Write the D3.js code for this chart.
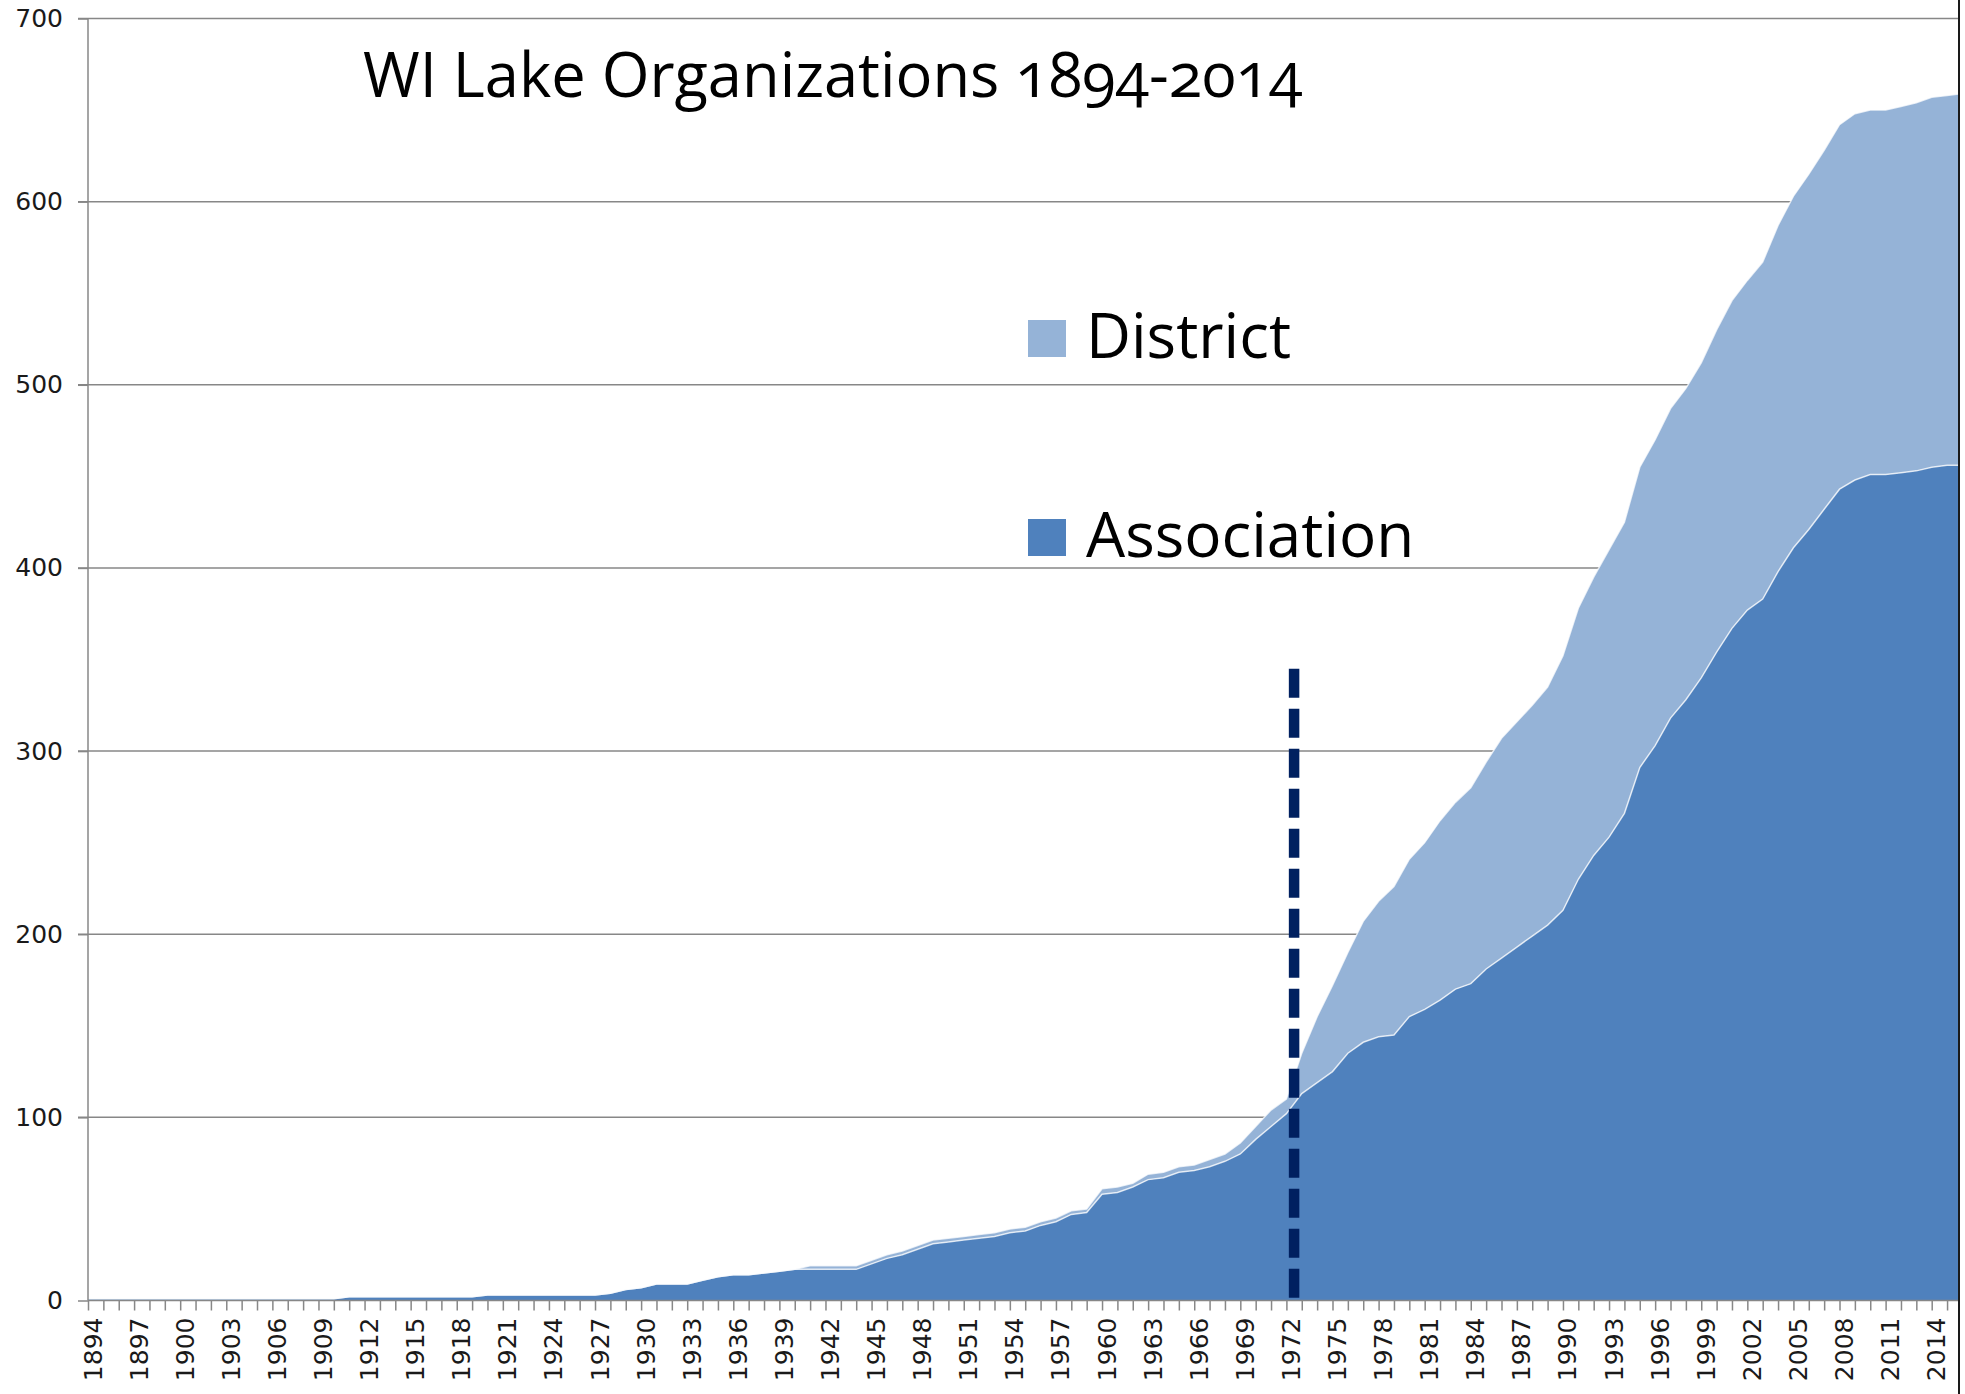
<!DOCTYPE html>
<html>
<head>
<meta charset="utf-8">
<script src="https://cdn.jsdelivr.net/npm/d3@7/dist/d3.min.js"></script>
<style>
    body { margin: 0; background: #fff; }
    svg { display: block; }
</style>
</head>
<body>
<svg id="chart"></svg>
<script>
const width = 1965;
const height = 1394;

// one value per year, 1894 .. 2016
const years = d3.range(1894, 2017);
const association = [
    1, 1, 1, 1, 1, 1, 1, 1, 1, 1, 1, 1, 1, 1, 1, 1, 1,          // 1894-1910
    2, 2, 2, 2, 2, 2, 2, 2, 2,                                   // 1911-1919
    3, 3, 3, 3, 3, 3, 3, 3,                                      // 1920-1927
    4, 6, 7, 9, 9, 9, 11, 13, 14, 14, 15, 16, 17, 17, 17, 17, 17, // 1928-1944
    20, 23, 25, 28, 31, 32, 33, 34, 35, 37, 38, 41, 43, 47, 48,  // 1945-1959
    58, 59, 62, 66, 67, 70, 71, 73, 76, 80, 88, 95, 102,         // 1960-1972
    113, 119, 125, 135, 141, 144, 145, 155, 159, 164, 170, 173,  // 1973-1984
    181, 187, 193, 199, 205, 213, 230, 243, 253, 266, 291, 303,  // 1985-1996
    318, 328, 340, 354, 367, 377, 383, 398, 411, 421, 432, 443,  // 1997-2008
    448, 451, 451, 452, 453, 455, 456, 456                       // 2009-2016
];
const district = [
    0, 0, 0, 0, 0, 0, 0, 0, 0, 0, 0, 0, 0, 0, 0, 0, 0,
    0, 0, 0, 0, 0, 0, 0, 0, 0,
    0, 0, 0, 0, 0, 0, 0, 0,
    0, 0, 0, 0, 0, 0, 0, 0, 0, 0, 0, 0, 0, 2, 2, 2, 2,
    2, 2, 2, 2, 2, 2, 2, 2, 2, 2, 2, 2, 2, 2, 2,
    3, 3, 2, 3, 3, 3, 3, 4, 4, 6, 7, 9, 8,
    22, 36, 47, 55, 66, 74, 81, 86, 91, 98, 102, 107,
    113, 120, 123, 126, 130, 139, 148, 152, 157, 159, 164, 167,
    169, 170, 172, 176, 179, 180, 184, 189, 192, 194, 196, 199,
    200, 199, 199, 200, 201, 202, 202, 203
];
const seriesKeys = ["association", "district"];
const seriesLabels = ["Association", "District"];
const seriesColors = ["#4F81BD", "#95B3D7"];
const yTicks = [0, 100, 200, 300, 400, 500, 600, 700];
const xTickYears = d3.range(1894, 2016);
const xLabelYears = d3.range(1894, 2015, 3);
const markerYear = 1972.5;
const markerTop = 345;
const titleText = "WI Lake Organizations 1894-2014";

const rows = years.map((yr, i) => ({year: yr, association: association[i], district: district[i]}));

const left = 88, right = 1959;
const x = d3.scaleLinear().domain([1894, 2014]).range([left, 1931.7]);
const y = d3.scaleLinear().domain([0, 700]).range([1300.5, 18.5]);

const svg = d3.select("#chart")
    .attr("width", width)
    .attr("height", height)
    .attr("viewBox", [0, 0, width, height]);

svg.append("defs").append("clipPath")
    .attr("id", "plot")
    .append("rect")
    .attr("x", left)
    .attr("y", 0)
    .attr("width", right - left)
    .attr("height", height);

// gridlines
svg.append("g")
    .classed("grid", true)
    .selectAll("line")
    .data(yTicks.filter(d => d > 0))
    .join("line")
    .attr("x1", left - 10)
    .attr("x2", right)
    .attr("y1", d => y(d))
    .attr("y2", d => y(d))
    .attr("stroke", "#878787")
    .attr("stroke-width", 1.5);

// stacked areas
let stacked = d3.stack().keys(seriesKeys)(rows);
let area = d3.area()
    .x(d => x(d.data.year))
    .y0(d => y(d[0]))
    .y1(d => y(d[1]));
let topLine = d3.line()
    .x(d => x(d.data.year))
    .y(d => y(d[1]));

let areas = svg.append("g").attr("clip-path", "url(#plot)");
areas.selectAll("path.area")
    .data(stacked)
    .join("path")
    .classed("area", true)
    .attr("fill", (d, i) => seriesColors[i])
    .attr("d", area);
areas.selectAll("path.edge")
    .data(stacked)
    .join("path")
    .classed("edge", true)
    .attr("fill", "none")
    .attr("stroke", "#ffffff")
    .attr("stroke-opacity", 0.75)
    .attr("stroke-width", 1.5)
    .attr("d", topLine);

// y axis
let yAxis = svg.append("g")
    .attr("transform", "translate(" + left + ",0)")
    .call(d3.axisLeft(y).tickValues(yTicks).tickSize(10).tickPadding(15));
yAxis.select(".domain").attr("stroke", "#878787").attr("stroke-width", 1.5)
    .attr("d", "M0," + y(700) + "V" + y(0));
yAxis.selectAll(".tick line").attr("stroke", "#878787").attr("stroke-width", 1.5);
yAxis.selectAll(".tick text")
    .attr("fill", "#1a1a1a")
    .style("font-family", "'DejaVu Sans', Verdana, sans-serif")
    .style("font-size", "25px");

// x axis
let xAxis = svg.append("g")
    .attr("transform", "translate(0," + y(0) + ")")
    .call(d3.axisBottom(x).tickValues(xTickYears).tickSize(10)
        .tickFormat(d => xLabelYears.includes(d) ? String(d) : ""));
xAxis.select(".domain").attr("stroke", "#878787").attr("stroke-width", 1.5)
    .attr("d", "M" + left + ",0H" + right);
xAxis.selectAll(".tick line").attr("stroke", "#878787").attr("stroke-width", 1.5);
xAxis.selectAll(".tick text")
    .attr("fill", "#1a1a1a")
    .attr("transform", "translate(4,17) rotate(-90)")
    .attr("x", 0)
    .attr("y", 0)
    .attr("dy", "0.36em")
    .attr("text-anchor", "end")
    .style("font-family", "'DejaVu Sans', Verdana, sans-serif")
    .style("font-size", "25px");

// 1972 marker
svg.append("line")
    .attr("x1", x(markerYear))
    .attr("x2", x(markerYear))
    .attr("y1", y(markerTop))
    .attr("y2", y(0))
    .attr("stroke", "#002060")
    .attr("stroke-width", 10.5)
    .attr("stroke-dasharray", "29 11");

// right frame
svg.append("line")
    .attr("x1", right)
    .attr("x2", right)
    .attr("y1", 0)
    .attr("y2", height)
    .attr("stroke", "#1a1a1a")
    .attr("stroke-width", 2);

// title
let title = svg.append("text")
    .attr("x", 363)
    .attr("y", 97)
    .style("font-family", "'Open Sans', 'Noto Sans', sans-serif")
    .style("font-variant-numeric", "oldstyle-nums")
    .style("font-size", "60px")
    .attr("fill", "#000")
    .text(titleText);
let tw = title.node().getComputedTextLength();
title.style("font-size", (60 * 940 / tw) + "px");

// legend
let legendRows = [
    {label: seriesLabels[1], color: seriesColors[1], top: 320, base: 358},
    {label: seriesLabels[0], color: seriesColors[0], top: 519, base: 557}
];
let legend = svg.append("g").classed("legend", true);
legend.selectAll("rect")
    .data(legendRows)
    .join("rect")
    .attr("x", 1028)
    .attr("y", d => d.top)
    .attr("width", 38)
    .attr("height", 37)
    .attr("fill", d => d.color);
let legendText = legend.selectAll("text")
    .data(legendRows)
    .join("text")
    .attr("x", 1086)
    .attr("y", d => d.base)
    .style("font-family", "'Open Sans', 'Noto Sans', sans-serif")
    .style("font-size", "60px")
    .attr("fill", "#000")
    .text(d => d.label);
let dw = legendText.filter(d => d.label === "District").node().getComputedTextLength();
legendText.style("font-size", (60 * 205 / dw) + "px");
</script>
</body>
</html>
